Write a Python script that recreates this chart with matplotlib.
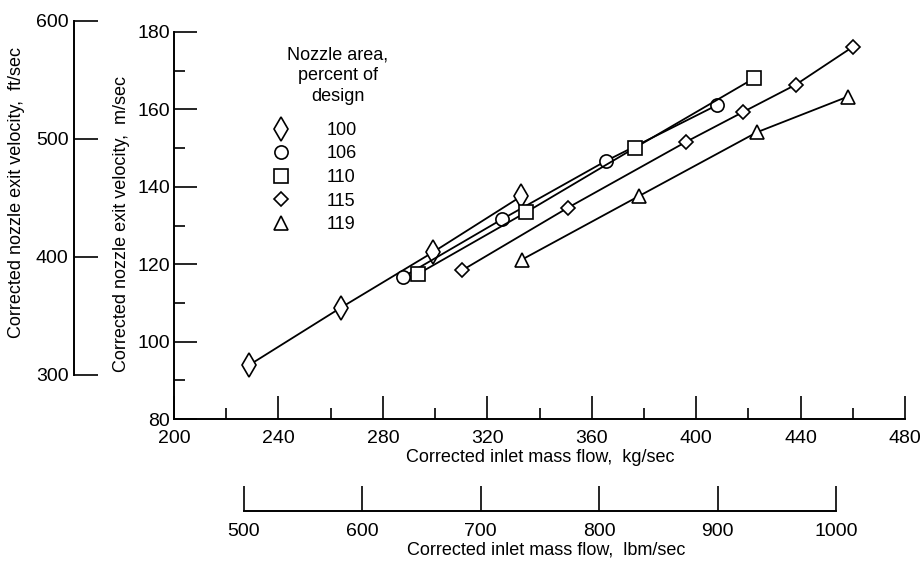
import numpy as np
import matplotlib
matplotlib.use('Agg')
import matplotlib.pyplot as plt
from matplotlib.lines import Line2D

plt.rcParams['font.family'] = ['Liberation Sans', 'DejaVu Sans']

# Nozzle area, percent of design
areas = ['100', '106', '110', '115', '119']
markers = ['d', 'o', 's', 'D', '^']
marker_sizes = [12.5, 9.5, 9.5, 7.5, 10.5]

# corrected inlet mass flow (kg/sec) and nozzle exit velocity (m/sec)
flow_100 = [228.7, 264.0, 299.2, 332.9]
vel_100 = [93.9, 108.8, 123.1, 137.5]

flow_106 = [287.7, 325.6, 365.5, 408.0]
vel_106 = [116.7, 131.6, 146.7, 161.1]

flow_110 = [293.5, 334.8, 376.6, 422.1]
vel_110 = [117.5, 133.4, 150.1, 168.0]

flow_115 = [310.3, 350.9, 396.1, 417.9, 438.2, 460.1]
vel_115 = [118.4, 134.6, 151.6, 159.3, 166.4, 176.2]

flow_119 = [333.3, 378.1, 423.3, 458.1]
vel_119 = [121.2, 137.6, 154.1, 163.3]

flows = [flow_100, flow_106, flow_110, flow_115, flow_119]
vels = [vel_100, vel_106, vel_110, vel_115, vel_119]

KG_PER_LBM = 0.45359
M_PER_FT = 0.3048

W, H = 921, 566
fig = plt.figure(figsize=(W / 100, H / 100), dpi=100)
ax = fig.add_axes([174 / W, 147 / H, 731 / W, 387 / H])

for fl, v, m, ms in zip(flows, vels, markers, marker_sizes):
    ax.plot(fl, v, color='black', linewidth=1.3, marker=m, markersize=ms,
            markerfacecolor='white', markeredgecolor='black', markeredgewidth=1.2)

ax.set_xlim(200, 480)
ax.set_ylim(80, 180)
ax.spines['top'].set_visible(False)
ax.spines['right'].set_visible(False)
for s in ['left', 'bottom']:
    ax.spines[s].set_linewidth(1.4)
ax.set_xticks(np.arange(200, 481, 40))
ax.set_xticks(np.arange(220, 481, 40), minor=True)
ax.set_yticks(np.arange(80, 181, 20))
ax.set_yticks(np.arange(90, 181, 20), minor=True)
ax.tick_params(which='major', direction='in', length=16.5, width=1.2, labelsize=14)
ax.tick_params(which='minor', direction='in', length=8, width=1.2)
ax.tick_params(axis='x', which='major', pad=8)
ax.tick_params(axis='y', which='major', pad=3)

left, bottom, width, height = ax.get_position().bounds


def vel_to_fig(v):
    return bottom + (v - 80) / 100 * height


def flow_to_fig(f):
    return left + (f - 200) / 280 * width


# ft/sec scale on the far left
ft_lo, ft_hi = 300, 600
b0 = vel_to_fig(ft_lo * M_PER_FT)
b1 = vel_to_fig(ft_hi * M_PER_FT)
ax_ft = fig.add_axes([74 / W, b0, 0.01, b1 - b0])
ax_ft.set_ylim(ft_lo, ft_hi)
ax_ft.patch.set_visible(False)
for s in ['top', 'right', 'bottom']:
    ax_ft.spines[s].set_visible(False)
ax_ft.spines['left'].set_linewidth(1.4)
ax_ft.xaxis.set_visible(False)
ax_ft.set_yticks([300, 400, 500, 600])
ax_ft.tick_params(axis='y', direction='in', length=17, width=1.2, labelsize=14, pad=4)

# lbm/sec scale underneath
lb_lo, lb_hi = 500, 1000
l0 = flow_to_fig(lb_lo * KG_PER_LBM)
l1 = flow_to_fig(lb_hi * KG_PER_LBM)
ax_lb = fig.add_axes([l0, (H - 511) / H, l1 - l0, 0.01])
ax_lb.set_xlim(lb_lo, lb_hi)
ax_lb.patch.set_visible(False)
for s in ['top', 'right', 'left']:
    ax_lb.spines[s].set_visible(False)
ax_lb.spines['bottom'].set_linewidth(1.4)
ax_lb.yaxis.set_visible(False)
ax_lb.set_xticks([500, 600, 700, 800, 900, 1000])
ax_lb.tick_params(axis='x', direction='in', length=18, width=1.2, labelsize=14, pad=9)

# axis titles
fig.text(540 / W, 1 - 458 / H, 'Corrected inlet mass flow,  kg/sec',
         ha='center', va='center', fontsize=13)
fig.text(546 / W, 1 - 550 / H, 'Corrected inlet mass flow,  lbm/sec',
         ha='center', va='center', fontsize=13)
fig.text(122 / W, 1 - 224 / H, 'Corrected nozzle exit velocity,  m/sec',
         ha='center', va='center', rotation=90, fontsize=13)
fig.text(17 / W, 1 - 193 / H, 'Corrected nozzle exit velocity,  ft/sec',
         ha='center', va='center', rotation=90, fontsize=13)

# legend
fig.text(338 / W, 1 - 75.5 / H, 'Nozzle area,\npercent of\ndesign',
         ha='center', va='center', fontsize=13, linespacing=1.3)
handles = [Line2D([], [], marker=m, linestyle='none', markersize=ms,
                  markerfacecolor='white', markeredgecolor='black', markeredgewidth=1.2)
           for m, ms in zip(markers, marker_sizes)]
ax.legend(handles, areas, loc='upper left', bbox_to_anchor=(272 / W, 1 - 122 / H),
          bbox_transform=fig.transFigure, frameon=False, fontsize=13,
          handlelength=1.0, handletextpad=2.0, labelspacing=0.36,
          borderpad=0, borderaxespad=0)

fig.savefig('out.png', dpi=100)
